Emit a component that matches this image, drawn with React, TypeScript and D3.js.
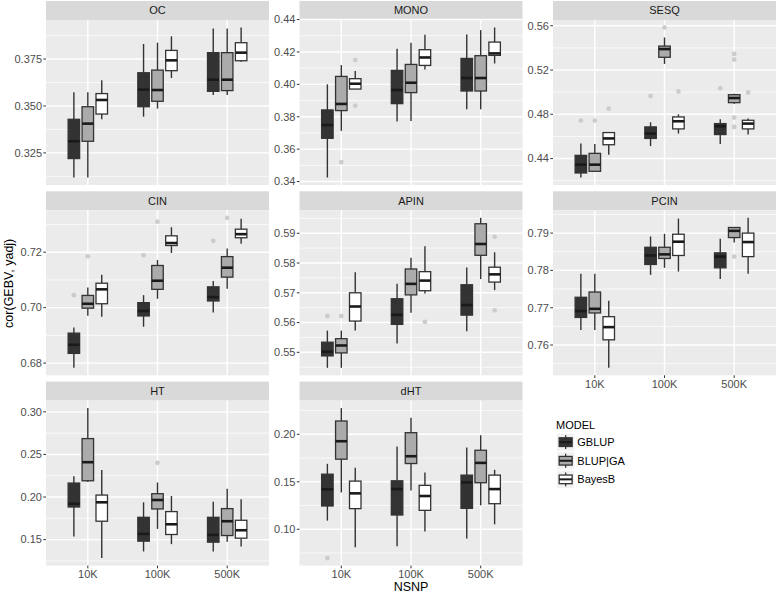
import React from "react";
import * as d3 from "d3";

// ---------- data ----------
const TRAITS = ["OC", "MONO", "SESQ", "CIN", "APIN", "PCIN", "HT", "dHT"];
const NSNP = ["10K", "100K", "500K"];
const MODELS = ["GBLUP", "BLUP|GA", "BayesB"];

// each row: [lowerWhisker, q1, median, q3, upperWhisker]; order: NSNP x MODEL
const OC_STATS = [
  [0.3119, 0.322, 0.3312, 0.3429, 0.3573], [0.3119, 0.3312, 0.3406, 0.3496, 0.3573], [0.3429, 0.3457, 0.3532, 0.3566, 0.3637],
  [0.3443, 0.3496, 0.3587, 0.3677, 0.383], [0.3486, 0.3525, 0.3585, 0.3691, 0.3837], [0.3649, 0.3688, 0.3743, 0.3796, 0.3871],
  [0.3559, 0.3578, 0.364, 0.3784, 0.3913], [0.3559, 0.3582, 0.364, 0.3784, 0.3913], [0.3736, 0.3741, 0.3784, 0.3837, 0.3918],
];
const MONO_STATS = [
  [0.3425, 0.3667, 0.3749, 0.3842, 0.4], [0.3713, 0.3838, 0.3879, 0.4049, 0.4119], [0.3971, 0.3971, 0.4004, 0.4035, 0.4082],
  [0.377, 0.3881, 0.3965, 0.4086, 0.422], [0.3774, 0.3949, 0.401, 0.4123, 0.4257], [0.4092, 0.4117, 0.4166, 0.4214, 0.4306],
  [0.3846, 0.3959, 0.4039, 0.416, 0.4308], [0.3846, 0.3959, 0.4039, 0.4177, 0.4335], [0.4129, 0.4179, 0.4191, 0.4261, 0.4351],
];
const SESQ_STATS = [
  [0.4229, 0.427, 0.4345, 0.4429, 0.4537], [0.4279, 0.4285, 0.4345, 0.4447, 0.4531], [0.4435, 0.4525, 0.4582, 0.4635, 0.4641],
  [0.4513, 0.4582, 0.4626, 0.4686, 0.4728], [0.5255, 0.5315, 0.5389, 0.5416, 0.5494], [0.4626, 0.4668, 0.4737, 0.4776, 0.48],
  [0.4531, 0.4617, 0.4692, 0.4716, 0.4755], [0.4896, 0.4905, 0.4947, 0.4977, 0.4985], [0.4617, 0.4668, 0.4716, 0.4746, 0.4761],
];
const CIN_STATS = [
  [0.6783, 0.6835, 0.6866, 0.6908, 0.6928], [0.6971, 0.6998, 0.7014, 0.7044, 0.7073], [0.6967, 0.7014, 0.7066, 0.7088, 0.7119],
  [0.6931, 0.697, 0.6988, 0.7018, 0.7045], [0.7032, 0.7066, 0.7097, 0.7152, 0.7172], [0.7197, 0.7224, 0.7233, 0.7259, 0.729],
  [0.6982, 0.7024, 0.7038, 0.7075, 0.7096], [0.7068, 0.711, 0.7144, 0.7184, 0.7213], [0.723, 0.7252, 0.7265, 0.7283, 0.7321],
];
const APIN_STATS = [
  [0.5448, 0.5488, 0.5502, 0.5534, 0.5573], [0.5448, 0.5498, 0.5523, 0.5546, 0.5573], [0.5573, 0.5605, 0.5654, 0.57, 0.5769],
  [0.553, 0.5594, 0.5626, 0.568, 0.573], [0.5633, 0.5693, 0.573, 0.578, 0.5818], [0.5698, 0.5707, 0.5741, 0.5771, 0.5856],
  [0.5571, 0.5625, 0.5659, 0.5727, 0.5785], [0.5746, 0.5826, 0.5864, 0.5932, 0.5952], [0.5709, 0.5736, 0.5762, 0.5786, 0.5836],
];
const PCIN_STATS = [
  [0.764, 0.7674, 0.7691, 0.7728, 0.7791], [0.764, 0.7686, 0.7697, 0.7742, 0.7791], [0.7539, 0.7614, 0.7648, 0.7676, 0.7719],
  [0.7788, 0.7816, 0.784, 0.7862, 0.7891], [0.7807, 0.7832, 0.7843, 0.7862, 0.7898], [0.7797, 0.784, 0.7877, 0.7897, 0.7939],
  [0.7777, 0.7807, 0.7837, 0.7847, 0.7885], [0.7875, 0.7888, 0.7906, 0.7915, 0.7916], [0.7791, 0.7837, 0.7876, 0.79, 0.7941],
];
const HT_STATS = [
  [0.1536, 0.1883, 0.1922, 0.2164, 0.2245], [0.2175, 0.2191, 0.2409, 0.2686, 0.3044], [0.1283, 0.1716, 0.1938, 0.2023, 0.2316],
  [0.1361, 0.1482, 0.1567, 0.1762, 0.1938], [0.1626, 0.186, 0.1965, 0.2039, 0.2171], [0.1447, 0.156, 0.168, 0.1829, 0.2012],
  [0.1361, 0.147, 0.1556, 0.1762, 0.1945], [0.1474, 0.1548, 0.1716, 0.1864, 0.2097], [0.1419, 0.1517, 0.161, 0.1727, 0.1973],
];
const DHT_STATS = [
  [0.1091, 0.1245, 0.142, 0.158, 0.1689], [0.1388, 0.1738, 0.1927, 0.214, 0.2276], [0.0811, 0.1217, 0.1378, 0.1507, 0.1647],
  [0.0822, 0.115, 0.1423, 0.151, 0.1871], [0.1409, 0.1692, 0.1769, 0.2017, 0.2175], [0.0976, 0.1199, 0.135, 0.1462, 0.1598],
  [0.0902, 0.122, 0.1493, 0.157, 0.186], [0.1252, 0.149, 0.1699, 0.1832, 0.199], [0.1052, 0.1269, 0.1423, 0.157, 0.1626],
];

// outliers: [nsnpIndex, modelIndex, value]
const OC_OUT: number[][] = [];
const MONO_OUT = [[0, 1, 0.352], [0, 2, 0.415], [0, 2, 0.3869]];
const SESQ_OUT = [
  [0, 0, 0.4743], [0, 1, 0.4743], [0, 2, 0.4851], [1, 0, 0.4965], [1, 1, 0.5584], [1, 2, 0.5006],
  [2, 0, 0.5036], [2, 1, 0.5345], [2, 1, 0.5294], [2, 1, 0.477], [2, 1, 0.4686], [2, 2, 0.4997],
];
const CIN_OUT = [[0, 0, 0.7045], [0, 1, 0.7185], [1, 0, 0.7189], [1, 1, 0.731], [2, 0, 0.7241], [2, 1, 0.7324]];
const APIN_OUT = [[0, 0, 0.5622], [0, 1, 0.5622], [1, 2, 0.5602], [2, 2, 0.5888], [2, 2, 0.5641]];
const PCIN_OUT = [[2, 1, 0.7837]];
const HT_OUT = [[1, 1, 0.2401]];
const DHT_OUT = [[0, 0, 0.0696]];

// y-axis tick labels per facet
const OC_TICKS = ["0.325", "0.350", "0.375"];
const MONO_TICKS = ["0.34", "0.36", "0.38", "0.40", "0.42", "0.44"];
const SESQ_TICKS = ["0.44", "0.48", "0.52", "0.56"];
const CIN_TICKS = ["0.68", "0.70", "0.72"];
const APIN_TICKS = ["0.55", "0.56", "0.57", "0.58", "0.59"];
const PCIN_TICKS = ["0.76", "0.77", "0.78", "0.79"];
const HT_TICKS = ["0.15", "0.20", "0.25", "0.30"];
const DHT_TICKS = ["0.10", "0.15", "0.20"];

const STATS = [OC_STATS, MONO_STATS, SESQ_STATS, CIN_STATS, APIN_STATS, PCIN_STATS, HT_STATS, DHT_STATS];
const OUTS = [OC_OUT, MONO_OUT, SESQ_OUT, CIN_OUT, APIN_OUT, PCIN_OUT, HT_OUT, DHT_OUT];
const TICKS = [OC_TICKS, MONO_TICKS, SESQ_TICKS, CIN_TICKS, APIN_TICKS, PCIN_TICKS, HT_TICKS, DHT_TICKS];

// ---------- style / layout ----------
const W = 777;
const H = 594;
const FONT = "'Liberation Sans', Arial, Helvetica, sans-serif";
const FILLS = ["#333333", "#ABABAB", "#FFFFFF"];
const COL_X = [46, 299.5, 553];
const ROW_TOP = [1, 191.3, 381.6];
const STRIP_H = 19;
const PANEL_W = 223;
const PANEL_H = 165;

function Panel({ idx }: { idx: number }) {
  const col = idx % 3;
  const row = Math.floor(idx / 3);
  const px = COL_X[col];
  const stripY = ROW_TOP[row];
  const py = stripY + STRIP_H;
  const stats = STATS[idx];
  const outs = OUTS[idx];
  const ticks = TICKS[idx].map((t) => +t);

  const allVals = [...stats.flat(), ...outs.map((o) => o[2])];
  const [mn, mx] = d3.extent(allVals) as [number, number];
  const pad = (mx - mn) * 0.05;
  const y = d3.scaleLinear().domain([mn - pad, mx + pad]).range([py + PANEL_H, py]);
  const x = d3.scalePoint<string>().domain(NSNP).range([px, px + PANEL_W]).padding(0.6);
  const step = x.step();
  const dodge = step * 0.2;
  const bw = step * 0.165;

  const tstep = ticks.length > 1 ? ticks[1] - ticks[0] : 0;
  const minor: number[] = [];
  for (let i = -1; i < ticks.length; i++) {
    const v = ticks[0] + (i + 0.5) * tstep;
    if (v > y.domain()[0] && v < y.domain()[1]) minor.push(v);
  }

  const showX = row === 2 || idx === 5;

  return (
    <g>
      <rect x={px} y={stripY} width={PANEL_W} height={STRIP_H} fill="#D9D9D9" />
      <text x={px + PANEL_W / 2} y={stripY + STRIP_H / 2} dy="0.35em" textAnchor="middle" fontSize={11} fill="#1A1A1A">
        {TRAITS[idx]}
      </text>
      <rect x={px} y={py} width={PANEL_W} height={PANEL_H} fill="#EBEBEB" />
      {minor.map((v, i) => (
        <line key={"mn" + i} x1={px} x2={px + PANEL_W} y1={y(v)} y2={y(v)} stroke="#FFFFFF" strokeWidth={0.7} />
      ))}
      {ticks.map((v, i) => (
        <line key={"mj" + i} x1={px} x2={px + PANEL_W} y1={y(v)} y2={y(v)} stroke="#FFFFFF" strokeWidth={1.4} />
      ))}
      {NSNP.map((n) => (
        <line key={"vx" + n} x1={x(n)} x2={x(n)} y1={py} y2={py + PANEL_H} stroke="#FFFFFF" strokeWidth={1.4} />
      ))}
      {/* y axis */}
      {ticks.map((v, i) => (
        <g key={"yt" + i}>
          <line x1={px - 2.7} x2={px} y1={y(v)} y2={y(v)} stroke="#333333" strokeWidth={1} />
          <text x={px - 4} y={y(v)} dy="0.35em" textAnchor="end" fontSize={11} fill="#4D4D4D">
            {TICKS[idx][i]}
          </text>
        </g>
      ))}
      {/* x axis */}
      {showX &&
        NSNP.map((n) => (
          <g key={"xt" + n}>
            <line x1={x(n)} x2={x(n)} y1={py + PANEL_H} y2={py + PANEL_H + 2.7} stroke="#333333" strokeWidth={1} />
            <text x={x(n)} y={py + PANEL_H + 4} dy="0.8em" textAnchor="middle" fontSize={11} fill="#4D4D4D">
              {n}
            </text>
          </g>
        ))}
      {/* boxes */}
      {stats.map((s, k) => {
        const ni = Math.floor(k / 3);
        const mi = k % 3;
        const cx = (x(NSNP[ni]) as number) + (mi - 1) * dodge;
        return (
          <g key={"b" + k}>
            <line x1={cx} x2={cx} y1={y(s[4])} y2={y(s[3])} stroke="#333333" strokeWidth={1.4} />
            <line x1={cx} x2={cx} y1={y(s[1])} y2={y(s[0])} stroke="#333333" strokeWidth={1.4} />
            <rect x={cx - bw / 2} y={y(s[3])} width={bw} height={Math.max(0.5, y(s[1]) - y(s[3]))} fill={FILLS[mi]} stroke="#333333" strokeWidth={1.3} />
            <line x1={cx - bw / 2} x2={cx + bw / 2} y1={y(s[2])} y2={y(s[2])} stroke="#1A1A1A" strokeWidth={2.6} />
          </g>
        );
      })}
      {outs.map((o, k) => {
        const cx = (x(NSNP[o[0]]) as number) + (o[1] - 1) * dodge;
        return <circle key={"o" + k} cx={cx} cy={y(o[2])} r={2.4} fill="#CCCCCC" />;
      })}
    </g>
  );
}

function Legend() {
  const lx = 556;
  const keyX = 557;
  const keySize = 17.3;
  const keyY0 = 433.5;
  return (
    <g>
      <text x={lx} y={425} dy="0.35em" fontSize={11} fill="#000000">MODEL</text>
      {MODELS.map((m, i) => {
        const ky = keyY0 + i * 18.6;
        const cx = keyX + keySize / 2;
        return (
          <g key={m}>
            <rect x={keyX} y={ky} width={keySize} height={keySize} fill="#F2F2F2" />
            <line x1={cx} x2={cx} y1={ky + keySize * 0.1} y2={ky + keySize * 0.9} stroke="#333333" strokeWidth={1.3} />
            <rect x={keyX + keySize * 0.125} y={ky + keySize * 0.25} width={keySize * 0.75} height={keySize * 0.5} fill={FILLS[i]} stroke="#333333" strokeWidth={1.3} />
            <line x1={keyX + keySize * 0.125} x2={keyX + keySize * 0.875} y1={ky + keySize / 2} y2={ky + keySize / 2} stroke="#1A1A1A" strokeWidth={2} />
            <text x={keyX + keySize + 3} y={ky + keySize / 2} dy="0.35em" fontSize={11} fill="#000000">{m}</text>
          </g>
        );
      })}
    </g>
  );
}

export default function App() {
  return (
    <svg width={W} height={H} style={{ position: "absolute", left: 0, top: 0, background: "#FFFFFF" }} fontFamily={FONT}>
      <rect x={0} y={0} width={W} height={H} fill="#FFFFFF" />
      {TRAITS.map((t, i) => (
        <Panel key={t} idx={i} />
      ))}
      <text transform={`translate(9,${(ROW_TOP[0] + ROW_TOP[2] + STRIP_H + PANEL_H) / 2}) rotate(-90)`} textAnchor="middle" dy="0.35em" fontSize={12.5} fill="#000000">
        cor(GEBV, yadj)
      </text>
      <text x={(COL_X[0] + COL_X[2] + PANEL_W) / 2} y={587} dy="0.35em" textAnchor="middle" fontSize={12.5} fill="#000000">
        NSNP
      </text>
      <Legend />
    </svg>
  );
}
